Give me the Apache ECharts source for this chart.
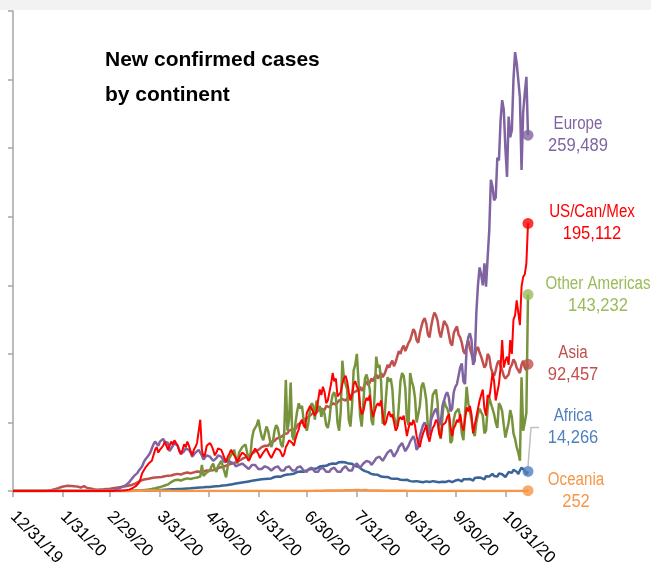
<!DOCTYPE html>
<html>
<head>
<meta charset="utf-8">
<title>New confirmed cases by continent</title>
<script src="https://cdn.jsdelivr.net/npm/echarts@6/dist/echarts.min.js"></script>
<style>
  html, body { margin: 0; padding: 0; background: #fff; }
  #chart { width: 651px; height: 570px; }
</style>
</head>
<body>
<div id="chart"></div>
<script>
// daily new cases, thousands, 12/31/19 .. 11/14/20
const europe = [
  0,
  0,0,0,0,0,0,0,0,0,0, 0,0,0,0,0,0,0,0,0,0, 0,0,0,0,0,0,0,0,0,0, 0,
  0,0,0,0,0,0,0,0,0,0, 0,0,0,0,0,0,0,0,0,0, 0.02,0.06,0.1,0.15,0.1,0.2,0.25,0.4,0.5,
  0.6,0.8,0.9,1.2,1.6,2.1,2.6,3.2,3.5,4.2, 5,6.5,8,9.5,11,11.5,13,15,16,18, 21,23,24,26,28,31,34,36,35,33, 36,
  37,38,36,37,35,29,30,33,35,34, 33,30,27,26,29,31,32,30,28,25, 26,28,29,30,29,26,23,24,26,27,
  25,24,22,21,24,26,27,25,23,21, 20,22,23,21,21,20,18,17,19,20, 20,19,18,17,16,17,19,19,19,18, 16,
  15,16,17,18,18,17,16,15,15,17, 18,18,17,15,14,15,17,17,18,17, 15,14,15,17,18,18,17,15,14,14,
  16,17,17,16,14,13,14,16,17,17, 16,14,13,14,16,17,17,16,14,13, 14,16,17,18,17,15,14,15,18,19, 20,
  19,17,16,20,21,22,22,21,19,18, 22,24,25,25,25,22,21,26,28,29, 30,29,25,24,29,32,33,35,34,29, 28,
  33,36,38,40,37,30,32,40,44,48, 50,47,40,42,52,55,58,60,56,48, 50,62,66,70,72,68,58,60,72,76,
  78,84,90,93,80,78,105,112,115,110, 92,95,130,150,163,158,150,166,149,170, 190,227,222,212,214,243,241,270,285,278, 250,
  229,273,258,263,300,320,312,313,287,234, 276,290,302,259.489
];
const usCanMex = [
  0,
  0,0,0,0,0,0,0,0,0,0, 0,0,0,0,0,0,0,0,0,0, 0,0,0,0,0,0,0,0,0,0, 0,
  0,0,0,0,0,0,0,0,0,0, 0,0,0,0,0,0,0,0,0,0, 0,0,0,0,0,0,0,0,0,
  0,0,0,0.1,0.1,0.1,0.2,0.3,0.4,0.6, 0.8,1,1.5,2,3,3.5,4.5,6,9,13, 15,17,18,20,19,22,26,30,32,28, 30,
  31,33,36,35,30,29,36,34,37,35, 33,29,27,30,34,32,36,33,29,26, 30,32,35,34,52,30,25,27,33,32,
  35,33,30,26,28,31,32,30,27,24, 21,25,27,30,29,26,24,21,24,26, 28,29,26,24,22,23,27,28,31,30, 27,
  24,25,28,29,31,30,26,24,25,29, 31,32,30,28,25,27,32,34,37,38, 35,33,38,42,45,50,52,48,46,57,
  58,62,60,61,55,58,66,74,70,76, 72,64,66,72,78,86,80,82,69,68, 72,78,82,84,80,72,66,70,78,80, 76,
  74,62,56,58,64,68,66,70,60,54, 58,62,64,62,66,56,48,50,55,58, 54,56,50,44,46,52,54,52,55,48, 40,
  46,50,48,52,48,40,35,32,38,42, 45,48,40,36,42,46,48,52,50,42, 39,48,47,50,54,56,47,40,46,48,
  52,50,56,48,44,52,61,58,62,56, 42,48,54,60,66,70,74,60,55,70, 68,76,86,80,66,72,78,90,110,90, 95,
  98,92,110,100,125,128,139,140,121,149, 156,158,166,195.112
];
const otherAmericas = [
  0,
  0,0,0,0,0,0,0,0,0,0, 0,0,0,0,0,0,0,0,0,0, 0,0,0,0,0,0,0,0,0,0, 0,
  0,0,0,0,0,0,0,0,0,0, 0,0,0,0,0,0,0,0,0,0, 0,0,0,0,0,0,0,0,0,
  0,0,0,0,0,0,0,0,0,0, 0,0,0,0.1,0.1,0.2,0.2,0.3,0.4,0.5, 0.6,0.8,1,1.1,1.3,1.5,1.8,2,2.2,2.6, 3,
  3.2,3.5,4,4.5,4.8,5.5,6.5,7.5,7.8,8, 8.2,8,7.6,8.2,8.6,9,9.2,9,8.8,9.2, 9.4,9.6,9.8,10.2,10.5,19,11,12,13.5,13,
  15,18,20,16,14,18,20,22,21,14, 10,18,24,26,28,30,24,20,28,30, 32,33,34,28,22,25,38,44,46,48, 52,
  45,40,37,42,47,44,38,32,36,44, 48,46,40,34,32,42,81,44,52,79, 40,37,50,58,64,60,62,52,48,44,
  50,60,64,62,52,66,58,62,54,60, 56,48,46,52,64,70,72,68,50,44, 58,95,82,78,74,52,47,62,88,92, 100,
  80,55,47,64,82,85,80,74,52,48, 70,98,90,92,80,49,52,68,83,80, 82,74,54,50,47,62,80,86,84,75, 52,
  48,86,80,76,68,50,49,62,76,79, 74,66,46,42,56,70,72,74,64,42, 38,54,66,62,60,56,35,37,52,57,
  58,60,54,42,37,56,76,64,58,52, 44,40,50,56,60,59,55,42,44,60, 68,64,60,56,50,46,64,62,58,48, 39,
  40,50,59,54,42,38,32,28,22,83, 44,50,57,143.232
];
const asia = [
  0,
  0,0,0,0,0,0,0,0,0,0, 0,0,0,0,0,0,0,0,0,0, 0,0.3,0.5,0.7,1,1.4,1.8,2.1,2.6,2.9, 3.2,
  3.5,3.8,3.9,3.9,3.7,3.6,3.4,3.3,3.2,3, 2.5,3.8,3.5,2.6,2.2,2,1.9,1.7,1.3,1, 0.9,1,1.1,1,1.2,1.3,1.4,1.5,1.6,
  1.8,2,2.2,2.4,2.6,2.8,3,3.2,3.4,3.5, 3.8,4,4.3,4.6,5,5.5,6.2,6.8,7.4,8, 8.3,8.6,8.8,9,9.3,9.5,9.6,9.8,9.9,10, 10,
  10.2,10.5,10.8,11,11.2,11,11.3,11.8,12,12.3, 12.5,12.2,12,12.5,13,13.2,13.5,13.3,13,13.2, 13.6,14,14.2,14.4,14,13.8,14.2,14.6,15,15.2,
  15,14.8,15.2,15.8,16.2,16.8,17.2,17,17.5,18, 18.5,19,19.5,19.8,20,20.5,21,21.5,22,22.8, 23.5,24,24.5,25,25.8,26.5,27.2,28,28.8,29.5, 30,
  30.5,32,31.5,33,34,33,34.5,36,35,36.5, 38,37,39,38.5,40,41.5,40.5,42,44,43, 45,46,45,47.5,49,48,50,52,51,53,
  54,55,55,57,56,57,59,58,60,61, 59,62,63,61,62,64,65,63,64,66, 65,67,68,66,67,69,68,70,72,71, 73,
  74,76,73,75,78,80,77,79,82,80, 83,85,82,84,86,83,85,88,92,90, 93,95,91,94,98,102,100,104,106,102, 105,
  108,110,114,118,116,110,108,115,120,124, 126,122,114,112,120,126,130,128,124,116, 112,118,124,122,120,114,108,106,115,118,
  120,114,112,108,102,100,106,110,104,100, 95,98,103,105,101,98,94,90,92,100, 98,90,86,84,88,93,95,91,88,84, 82,
  81,85,90,92,96,94,90,88,86,92, 95,90,88,92.457
];
const africa = [
  0,
  0,0,0,0,0,0,0,0,0,0, 0,0,0,0,0,0,0,0,0,0, 0,0,0,0,0,0,0,0,0,0, 0,
  0,0,0,0,0,0,0,0,0,0, 0,0,0,0,0,0,0,0,0,0, 0,0,0,0,0,0,0,0,0,
  0,0,0,0,0,0,0,0,0,0, 0,0,0,0,0.1,0.1,0.1,0.1,0.2,0.2, 0.2,0.3,0.3,0.4,0.4,0.5,0.5,0.6,0.6,0.7, 0.8,
  0.8,0.9,1,1,1.1,1.1,1.2,1.2,1.3,1.4, 1.4,1.5,1.5,1.6,1.7,1.8,1.9,2,2,2.1, 2.2,2.3,2.4,2.5,2.6,2.6,2.7,2.8,2.9,3,
  3,3.1,3.2,3.3,3.4,3.5,3.6,3.8,4,4.1, 4.2,4.4,4.6,4.8,5,5.2,5.4,5.6,5.8,6, 6.2,6.4,6.6,6.8,7,7.2,7.4,7.6,7.8,8, 8.2,
  8,8.5,8.3,8.8,9.2,9,9.5,9.2,9.8,10.2, 10,10.5,10.8,10.4,11,11.5,11.2,12,12.5,12.2, 13,12.6,13.5,13.8,13.4,14.2,14.5,14,14.8,15,
  15.2,15.8,15.4,16.2,16.8,16.4,17.2,17.8,17.4,18.2, 18.8,18.4,19,19.5,19,20,20.5,19.8,20.6,21, 20.2,21.2,21.5,20.8,21,20,19.5,19.8,19,18.2, 18.5,
  17.6,16.5,15.8,15,14.5,15.2,13.8,13,12.4,12.8, 12,11.5,11.8,11,10.5,10.8,10.2,9.8,10.2,9.6, 9.2,9.5,9,8.6,9,8.5,8.2,8.6,8,7.8, 8.2,
  7.6,7.2,7.8,7,6.8,7.2,6.5,6.8,7.2,6.4, 6.6,7,6.2,6.5,6.8,7.2,6.6,6.8,7,6.4, 6.2,6.8,7.2,6.6,7,7.4,6.8,6.4,7.2,7.6,
  7.8,8.2,7.5,7,8.5,9,8.6,9.2,8.8,8, 7.6,9.5,10.2,9.8,10.5,9.6,9,8.5,10.8,11.5, 10.6,11.8,12.5,11,9.8,10.5,12.8,13.5,12.2,11.5, 10.2,
  11,13.8,14.5,13.2,15.5,16,14,12.5,15,17, 16.2,15,12,14.266
];
const oceania = [
  0,
  0,0,0,0,0,0,0,0,0,0, 0,0,0,0,0,0,0,0,0,0, 0,0,0,0,0,0,0,0,0,0, 0,
  0,0,0,0,0,0,0,0,0,0, 0,0,0,0,0,0,0,0,0,0, 0,0,0,0,0,0,0,0,0,
  0,0,0,0,0,0,0,0,0,0, 0.01,0.02,0.03,0.04,0.05,0.06,0.08,0.1,0.14,0.17, 0.2,0.3,0.35,0.4,0.42,0.45,0.4,0.38,0.35,0.33, 0.3,
  0.28,0.25,0.22,0.2,0.17,0.14,0.1,0.09,0.08,0.06, 0.05,0.04,0.03,0.03,0.03,0.03,0.03,0.02,0.02,0.02, 0.02,0.02,0.02,0.02,0.02,0.02,0.02,0.02,0.02,0.02,
  0.02,0.02,0.02,0.02,0.02,0.02,0.02,0.02,0.02,0.02, 0.02,0.02,0.02,0.02,0.02,0.02,0.02,0.02,0.02,0.02, 0.02,0.02,0.02,0.02,0.02,0.02,0.02,0.02,0.02,0.02, 0.02,
  0.02,0.02,0.02,0.02,0.02,0.02,0.02,0.02,0.02,0.02, 0.02,0.02,0.02,0.02,0.02,0.03,0.03,0.03,0.03,0.03, 0.03,0.03,0.03,0.03,0.03,0.03,0.03,0.03,0.03,0.03,
  0.05,0.06,0.08,0.1,0.12,0.15,0.18,0.2,0.2,0.22, 0.25,0.28,0.3,0.3,0.32,0.35,0.38,0.4,0.38,0.4, 0.42,0.45,0.48,0.5,0.45,0.5,0.55,0.6,0.65,0.7, 0.65,
  0.7,0.65,0.6,0.55,0.7,0.5,0.48,0.45,0.4,0.38, 0.35,0.4,0.3,0.3,0.35,0.28,0.26,0.25,0.2,0.22, 0.2,0.18,0.17,0.15,0.15,0.14,0.13,0.12,0.12,0.11, 0.1,
  0.1,0.09,0.08,0.08,0.07,0.06,0.06,0.05,0.05,0.05, 0.04,0.04,0.04,0.04,0.04,0.04,0.04,0.04,0.04,0.04, 0.03,0.03,0.03,0.03,0.03,0.03,0.03,0.03,0.03,0.03,
  0.03,0.03,0.03,0.03,0.03,0.03,0.03,0.03,0.03,0.03, 0.03,0.03,0.03,0.03,0.03,0.03,0.03,0.03,0.03,0.03, 0.03,0.03,0.03,0.03,0.03,0.03,0.03,0.03,0.03,0.03, 0.03,
  0.03,0.03,0.03,0.04,0.04,0.05,0.05,0.05,0.06,0.08, 0.1,0.15,0.2,0.252
];

// x-axis tick labels (month ends)
const tickLabels = ['12/31/19', '1/31/20', '2/29/20', '3/31/20', '4/30/20', '5/31/20',
  '6/30/20', '7/31/20', '8/31/20', '9/30/20', '10/31/20'];

const dates = [];
for (let i = 0; i < europe.length; i++) {
  const d = new Date(Date.UTC(2019, 11, 31 + i));
  dates.push((d.getUTCMonth() + 1) + '/' + d.getUTCDate() + '/' + String(d.getUTCFullYear()).slice(2));
}

// drawing order: last one on top. offset = where the end label sits relative to the last point
const continents = [
  { name: 'Africa', data: africa, line: '#3a6397', mark: '#4f81bd', width: 2.5, offset: [45, -44] },
  { name: 'Asia', data: asia, line: '#c0504d', mark: '#c0504d', width: 2.5, offset: [45, 0] },
  { name: 'Other Americas', data: otherAmericas, line: '#77933c', mark: '#9bbb59', width: 2.5, offset: [70, 0] },
  { name: 'Europe', data: europe, line: '#8064a2', mark: '#8064a2', width: 2.5, offset: [50, 0] },
  { name: 'Oceania', data: oceania, line: '#f79646', mark: '#f79646', width: 2.5, offset: [48, 0] },
  { name: 'US/Can/Mex', data: usCanMex, line: '#ff0000', mark: '#ff0000', width: 2, offset: [64, 0] },
];

const labelFont = "18px 'Liberation Sans', Arial, sans-serif";
const isMonthEnd = (idx, value) => tickLabels.includes(value);

const lineSeries = continents.map((c) => ({
  name: c.name,
  type: 'line',
  data: c.data,
  showSymbol: false,
  symbol: 'none',
  lineStyle: { color: c.line, width: c.width },
  itemStyle: { color: c.line },
  emphasis: { disabled: true },
}));

const dotSeries = continents.map((c) => ({
  name: c.name + ' latest',
  type: 'scatter',
  z: 5,
  symbolSize: 11,
  itemStyle: { color: c.mark },
  emphasis: { disabled: true },
  data: [[c.data.length - 1, c.data[c.data.length - 1]]],
}));

const chart = echarts.init(document.getElementById('chart'));
chart.setOption({
  animation: false,
  backgroundColor: '#ffffff',
  title: {
    text: 'New confirmed cases\nby continent',
    left: 100,
    top: 38,
    textStyle: {
      fontFamily: "'Liberation Sans', Arial, sans-serif",
      fontWeight: 'bold',
      fontSize: 21,
      lineHeight: 35,
      color: '#000',
    },
  },
  grid: { left: 13, top: 11, width: 515, height: 480, containLabel: false },
  xAxis: {
    type: 'category',
    data: dates,
    boundaryGap: false,
    axisLine: { lineStyle: { color: '#a6a6a6', width: 1.5 } },
    axisTick: { interval: isMonthEnd, length: 6, lineStyle: { color: '#a6a6a6', width: 1.5 } },
    axisLabel: {
      interval: isMonthEnd,
      rotate: -45,
      margin: 23,
      color: '#000',
      fontSize: 17,
      fontFamily: "'Liberation Sans', Arial, sans-serif",
    },
    splitLine: { show: false },
  },
  yAxis: {
    type: 'value',
    min: 0,
    max: 350,
    interval: 50,
    axisLine: { show: true, lineStyle: { color: '#a6a6a6', width: 1.5 } },
    axisTick: { show: true, length: 5, lineStyle: { color: '#a6a6a6', width: 1.5 } },
    axisLabel: { show: false },
    splitLine: { show: false },
  },
  series: [...lineSeries, ...dotSeries],
});

// grey band, end labels (condensed via scaleX) and Africa's leader line
const graphics = [
  { id: 'band', type: 'rect', shape: { x: 0, y: 0, width: 651, height: 10 }, style: { fill: '#f2f2f2' }, silent: true },
];
continents.forEach((c, i) => {
  const n = c.data.length - 1;
  const p = chart.convertToPixel({ seriesIndex: i }, [n, c.data[n]]);
  const cx = p[0] + c.offset[0];
  const cy = p[1] + c.offset[1];
  const total = Math.round(c.data[n] * 1000).toLocaleString('en-US');
  const textStyle = (text) => ({
    text, fill: c.mark, font: labelFont,
    align: 'center', verticalAlign: 'middle', textAlign: 'center', textVerticalAlign: 'middle',
  });
  graphics.push({ type: 'text', x: cx, y: cy - 11, scaleX: 0.84, silent: true, z: 10, style: textStyle(c.name) });
  graphics.push({ type: 'text', x: cx, y: cy + 11, scaleX: 0.92, silent: true, z: 10, style: textStyle(total) });
  if (c.offset[1] !== 0) {
    graphics.push({
      type: 'polyline',
      silent: true,
      shape: { points: [[p[0], p[1] - 5], [p[0] + 3, cy], [p[0] + 11, cy]] },
      style: { stroke: '#bfbfbf', lineWidth: 1.5, fill: null },
    });
  }
});
chart.setOption({ graphic: graphics });
</script>
</body>
</html>
